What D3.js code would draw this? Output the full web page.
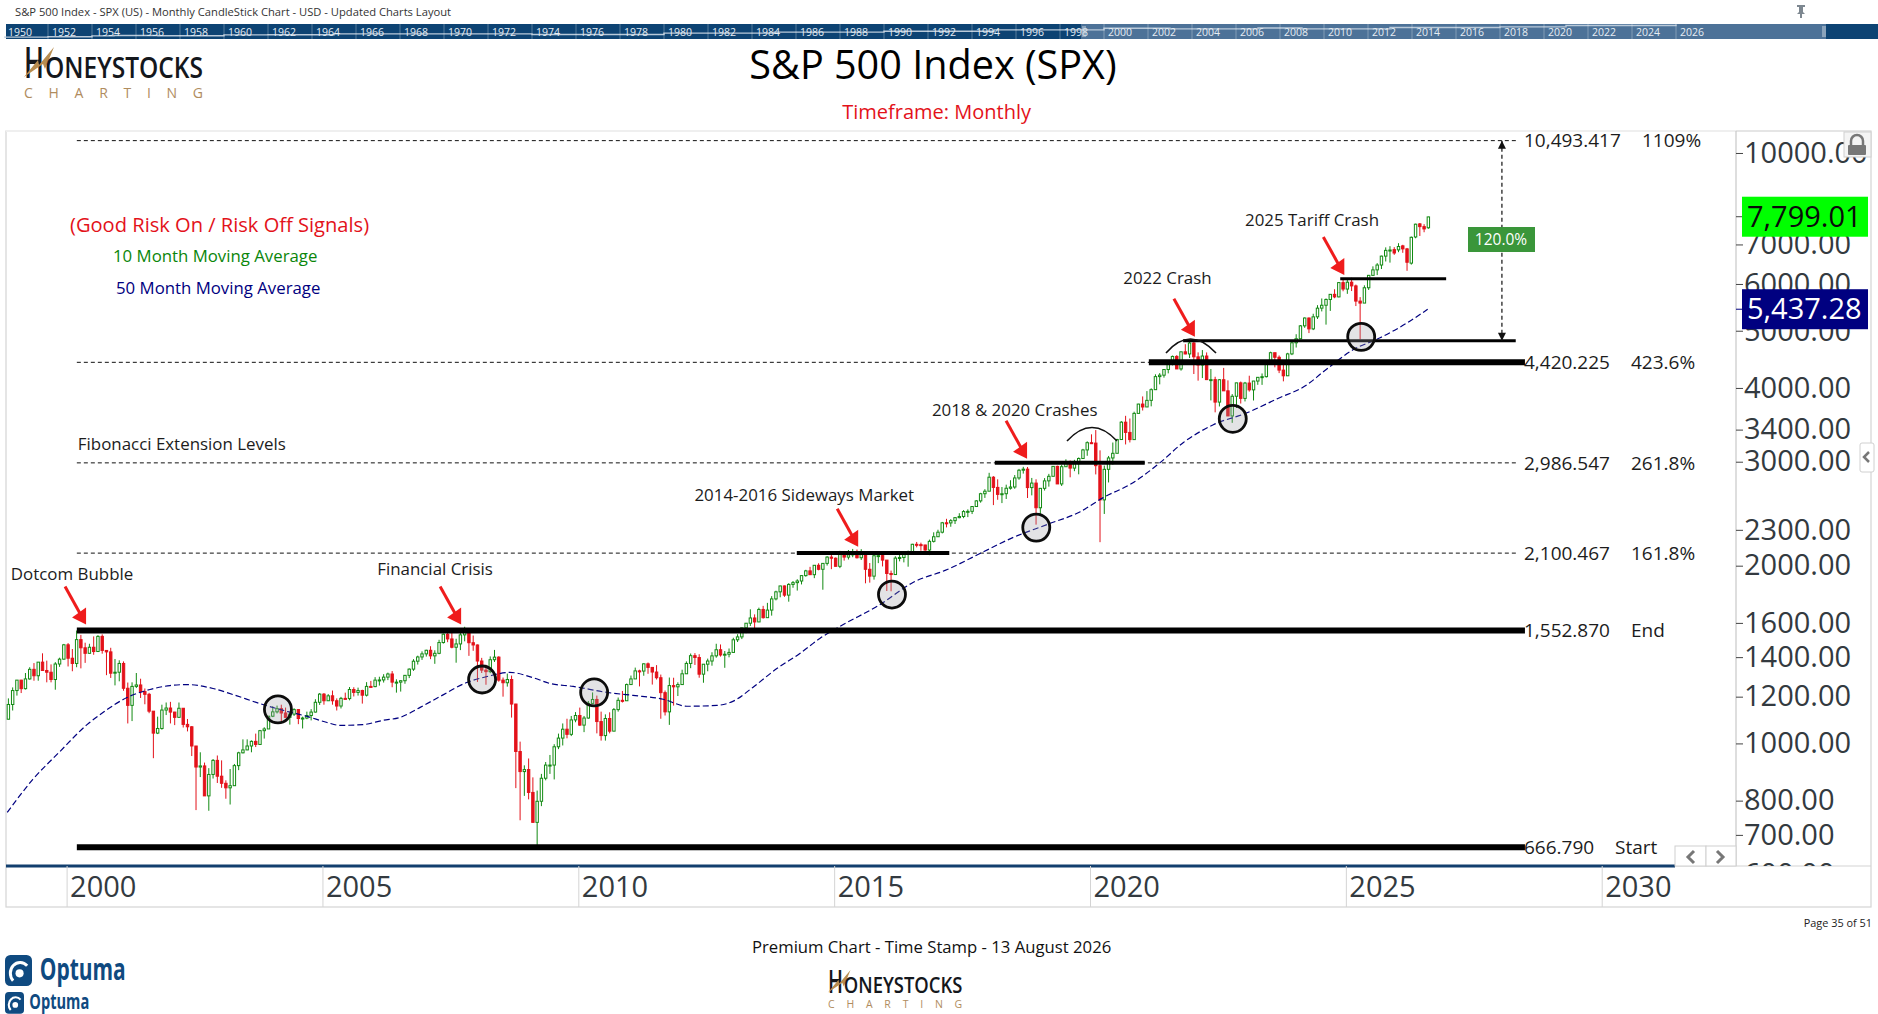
<!DOCTYPE html>
<html>
<head>
<meta charset="utf-8">
<title>S&amp;P 500 Index (SPX)</title>
<script src="https://cdn.jsdelivr.net/npm/d3@7"></script>
<style>
	html, body { margin: 0; padding: 0; background: #fff; }
	svg { display: block; font-family: "Open Sans", sans-serif; }
</style>
</head>
<body>
<div id="chart"></div>
<script>
// monthly candles, first one is Nov 1998
var firstYear = 1998, firstMonth = 10;

var opens = [
	1099, 1164,
	1229, 1280, 1238, 1286, 1335, 1302, 1373, 1329, 1320, 1283, 1363, 1389,
	1469, 1394, 1366, 1499, 1452, 1421, 1455, 1431, 1518, 1437, 1429, 1315,
	1320, 1366, 1240, 1160, 1249, 1256, 1224, 1211, 1134, 1041, 1060, 1139,
	1148, 1130, 1107, 1147, 1077, 1067, 990, 912, 916, 815, 886, 936,
	880, 856, 841, 848, 917, 964, 975, 990, 1008, 996, 1051, 1058,
	1112, 1131, 1145, 1126, 1107, 1121, 1141, 1102, 1104, 1115, 1130, 1174,
	1212, 1181, 1204, 1181, 1157, 1192, 1191, 1234, 1220, 1229, 1207, 1249,
	1248, 1280, 1281, 1295, 1311, 1270, 1270, 1277, 1304, 1336, 1378, 1401,
	1418, 1438, 1407, 1421, 1482, 1531, 1503, 1455, 1474, 1527, 1549, 1481,
	1468, 1379, 1331, 1323, 1386, 1400, 1280, 1267, 1283, 1166, 969, 896,
	903, 826, 735, 798, 873, 919, 919, 987, 1021, 1057, 1036, 1096,
	1115, 1074, 1104, 1169, 1187, 1089, 1031, 1102, 1049, 1141, 1183, 1181,
	1258, 1286, 1327, 1326, 1364, 1345, 1321, 1292, 1219, 1131, 1253, 1247,
	1258, 1312, 1366, 1408, 1398, 1310, 1362, 1379, 1407, 1441, 1412, 1416,
	1426, 1498, 1515, 1569, 1598, 1631, 1606, 1686, 1633, 1682, 1757, 1806,
	1848, 1783, 1859, 1872, 1884, 1924, 1960, 1931, 2003, 1972, 2018, 2068,
	2059, 1995, 2105, 2068, 2086, 2107, 2063, 2104, 1972, 1920, 2079, 2080,
	2044, 1940, 1932, 2060, 2065, 2097, 2099, 2174, 2171, 2168, 2126, 2199,
	2239, 2279, 2364, 2363, 2384, 2412, 2423, 2470, 2472, 2519, 2575, 2648,
	2674, 2824, 2714, 2641, 2648, 2705, 2718, 2816, 2902, 2914, 2712, 2760,
	2507, 2704, 2784, 2834, 2946, 2751, 2942, 2980, 2926, 2977, 3038, 3141,
	3231, 3226, 2954, 2585, 2912, 3044, 3100, 3271, 3500, 3363, 3270, 3622,
	3756, 3714, 3811, 3973, 4181, 4204, 4298, 4395, 4523, 4308, 4605, 4567,
	4766, 4516, 4374, 4530, 4132, 4132, 3785, 4130, 3955, 3586, 3872, 4080,
	3840, 4077, 3970, 4109, 4169, 4180, 4450, 4589, 4508, 4288, 4194, 4568,
	4770, 4846, 5096, 5254, 5036, 5278, 5460, 5522, 5648, 5762, 5705, 6032,
	5882, 6041, 5955, 5612, 5569, 5912, 6205, 6339, 6460, 6688, 6840, 6860,
	6853, 6961, 6880, 6508, 7207, 7584, 7504, 7470
];
var highs = [
	1192, 1244,
	1280, 1281, 1316, 1346, 1368, 1373, 1421, 1381, 1361, 1373, 1397, 1474,
	1479, 1445, 1553, 1527, 1481, 1475, 1518, 1525, 1530, 1437, 1452, 1390,
	1383, 1377, 1268, 1269, 1316, 1287, 1239, 1218, 1133, 1110, 1163, 1173,
	1176, 1131, 1173, 1148, 1100, 1070, 990, 966, 928, 908, 941, 954,
	936, 866, 905, 923, 968, 1016, 1016, 1012, 1039, 1054, 1065, 1112,
	1156, 1159, 1163, 1150, 1128, 1147, 1141, 1110, 1132, 1143, 1188, 1217,
	1217, 1212, 1229, 1192, 1199, 1219, 1246, 1245, 1243, 1233, 1270, 1276,
	1295, 1297, 1310, 1318, 1326, 1284, 1280, 1306, 1340, 1389, 1408, 1432,
	1441, 1461, 1438, 1498, 1535, 1541, 1556, 1504, 1539, 1576, 1545, 1523,
	1471, 1396, 1359, 1404, 1440, 1405, 1293, 1313, 1303, 1167, 1007, 918,
	943, 876, 832, 888, 930, 956, 997, 1039, 1081, 1101, 1113, 1130,
	1150, 1113, 1180, 1220, 1205, 1132, 1120, 1129, 1148, 1196, 1227, 1263,
	1303, 1344, 1333, 1367, 1371, 1345, 1357, 1308, 1229, 1293, 1292, 1269,
	1333, 1377, 1420, 1422, 1416, 1363, 1392, 1427, 1475, 1471, 1434, 1448,
	1510, 1531, 1570, 1598, 1687, 1654, 1698, 1710, 1730, 1776, 1814, 1849,
	1851, 1868, 1884, 1897, 1925, 1968, 1991, 2005, 2019, 2019, 2076, 2093,
	2065, 2119, 2118, 2126, 2135, 2130, 2133, 2113, 2021, 2094, 2117, 2104,
	2038, 1962, 2075, 2112, 2104, 2121, 2178, 2194, 2188, 2170, 2214, 2278,
	2301, 2372, 2401, 2398, 2417, 2454, 2484, 2491, 2520, 2582, 2657, 2695,
	2873, 2836, 2801, 2718, 2743, 2791, 2848, 2917, 2941, 2939, 2816, 2801,
	2708, 2814, 2861, 2950, 2954, 2964, 3028, 3014, 3022, 3050, 3154, 3248,
	3338, 3394, 3136, 2955, 3068, 3233, 3280, 3515, 3588, 3550, 3646, 3760,
	3870, 3951, 3994, 4218, 4238, 4302, 4429, 4538, 4546, 4608, 4744, 4809,
	4819, 4595, 4637, 4594, 4307, 4178, 4140, 4325, 4120, 3905, 4081, 4101,
	4095, 4195, 4111, 4170, 4232, 4458, 4607, 4585, 4540, 4393, 4587, 4794,
	4932, 5111, 5265, 5264, 5342, 5524, 5670, 5670, 5768, 5878, 6045, 6100,
	6128, 6147, 5986, 5700, 5968, 6215, 6427, 6508, 6700, 6920, 6953, 6926,
	7034, 6990, 6905, 7220, 7590, 7610, 7575, 7799
];
var lows = [
	1098, 1137,
	1205, 1217, 1234, 1282, 1277, 1277, 1328, 1269, 1269, 1233, 1348, 1387,
	1350, 1325, 1346, 1340, 1369, 1420, 1413, 1430, 1419, 1305, 1291, 1254,
	1274, 1228, 1081, 1091, 1241, 1194, 1165, 1125, 944, 1037, 1055, 1117,
	1081, 1074, 1107, 1064, 1048, 952, 771, 877, 815, 769, 872, 857,
	841, 806, 788, 848, 901, 962, 974, 966, 986, 996, 1019, 1061,
	1108, 1124, 1088, 1107, 1076, 1113, 1078, 1060, 1099, 1094, 1128, 1162,
	1163, 1181, 1163, 1137, 1146, 1191, 1183, 1201, 1205, 1168, 1201, 1246,
	1245, 1253, 1268, 1280, 1245, 1219, 1224, 1262, 1290, 1327, 1360, 1385,
	1403, 1389, 1364, 1416, 1476, 1484, 1449, 1370, 1439, 1489, 1407, 1435,
	1271, 1316, 1257, 1315, 1374, 1272, 1200, 1248, 1106, 840, 741, 815,
	804, 735, 667, 783, 866, 888, 869, 978, 992, 1020, 1029, 1086,
	1071, 1045, 1101, 1170, 1040, 1011, 1011, 1040, 1049, 1132, 1173, 1181,
	1257, 1302, 1249, 1302, 1312, 1258, 1283, 1101, 1115, 1075, 1159, 1203,
	1258, 1312, 1341, 1358, 1292, 1267, 1325, 1354, 1397, 1403, 1343, 1399,
	1426, 1485, 1502, 1537, 1581, 1560, 1605, 1627, 1633, 1646, 1747, 1768,
	1771, 1738, 1835, 1815, 1859, 1916, 1931, 1905, 1964, 1821, 2001, 1973,
	1993, 1981, 2040, 2049, 2067, 2057, 2045, 1867, 1872, 1894, 2020, 1994,
	1812, 1810, 1938, 2034, 2026, 1992, 2088, 2148, 2120, 2119, 2084, 2189,
	2245, 2268, 2322, 2328, 2353, 2406, 2407, 2417, 2446, 2520, 2557, 2605,
	2683, 2533, 2586, 2553, 2594, 2691, 2699, 2796, 2864, 2604, 2631, 2347,
	2443, 2681, 2722, 2849, 2751, 2729, 2952, 2823, 2891, 2856, 3050, 3070,
	3214, 2855, 2192, 2447, 2767, 2966, 3115, 3280, 3209, 3234, 3279, 3633,
	3663, 3725, 3723, 3973, 4056, 4164, 4234, 4368, 4306, 4279, 4560, 4495,
	4223, 4115, 4157, 4125, 3810, 3637, 3721, 3955, 3585, 3491, 3699, 3764,
	3795, 3943, 3809, 4049, 4048, 4166, 4385, 4335, 4238, 4104, 4194, 4546,
	4683, 4845, 5057, 4954, 5012, 5234, 5391, 5120, 5402, 5675, 5696, 5832,
	5773, 5837, 5505, 4835, 5579, 5861, 6201, 6212, 6360, 6550, 6521, 6722,
	6792, 6775, 6316, 6470, 7170, 7235, 7341, 7440
];
var closes = [
	1164, 1229,
	1280, 1238, 1286, 1335, 1302, 1373, 1329, 1320, 1283, 1363, 1389, 1469,
	1394, 1366, 1499, 1452, 1421, 1455, 1431, 1518, 1437, 1429, 1315, 1320,
	1366, 1240, 1160, 1249, 1256, 1224, 1211, 1134, 1041, 1060, 1139, 1148,
	1130, 1107, 1147, 1077, 1067, 990, 912, 916, 815, 886, 936, 880,
	856, 841, 848, 917, 964, 975, 990, 1008, 996, 1051, 1058, 1112,
	1131, 1145, 1126, 1107, 1121, 1141, 1102, 1104, 1115, 1130, 1174, 1212,
	1181, 1204, 1181, 1157, 1192, 1191, 1234, 1220, 1229, 1207, 1249, 1248,
	1280, 1281, 1295, 1311, 1270, 1270, 1277, 1304, 1336, 1378, 1401, 1418,
	1438, 1407, 1421, 1482, 1531, 1503, 1455, 1474, 1527, 1549, 1481, 1468,
	1379, 1331, 1323, 1386, 1400, 1280, 1267, 1283, 1166, 969, 896, 903,
	826, 735, 798, 873, 919, 919, 987, 1021, 1057, 1036, 1096, 1115,
	1074, 1104, 1169, 1187, 1089, 1031, 1102, 1049, 1141, 1183, 1181, 1258,
	1286, 1327, 1326, 1364, 1345, 1321, 1292, 1219, 1131, 1253, 1247, 1258,
	1312, 1366, 1408, 1398, 1310, 1362, 1379, 1407, 1441, 1412, 1416, 1426,
	1498, 1515, 1569, 1598, 1631, 1606, 1686, 1633, 1682, 1757, 1806, 1848,
	1783, 1859, 1872, 1884, 1924, 1960, 1931, 2003, 1972, 2018, 2068, 2059,
	1995, 2105, 2068, 2086, 2107, 2063, 2104, 1972, 1920, 2079, 2080, 2044,
	1940, 1932, 2060, 2065, 2097, 2099, 2174, 2171, 2168, 2126, 2199, 2239,
	2279, 2364, 2363, 2384, 2412, 2423, 2470, 2472, 2519, 2575, 2648, 2674,
	2824, 2714, 2641, 2648, 2705, 2718, 2816, 2902, 2914, 2712, 2760, 2507,
	2704, 2784, 2834, 2946, 2751, 2942, 2980, 2926, 2977, 3038, 3141, 3231,
	3226, 2954, 2585, 2912, 3044, 3100, 3271, 3500, 3363, 3270, 3622, 3756,
	3714, 3811, 3973, 4181, 4204, 4298, 4395, 4523, 4308, 4605, 4567, 4766,
	4516, 4374, 4530, 4132, 4132, 3785, 4130, 3955, 3586, 3872, 4080, 3840,
	4077, 3970, 4109, 4169, 4180, 4450, 4589, 4508, 4288, 4194, 4568, 4770,
	4846, 5096, 5254, 5036, 5278, 5460, 5522, 5648, 5762, 5705, 6032, 5882,
	6041, 5955, 5612, 5569, 5912, 6205, 6339, 6460, 6688, 6840, 6849, 6770,
	6944, 6880, 6530, 7197, 7575, 7504, 7437, 7793
];

// 50 month moving average
var maYears = [1998.84, 1999.34, 1999.87, 2000.40, 2000.71, 2001.18, 2001.63, 2002.02, 2002.35, 2002.86, 2003.25, 2003.78, 2004.31, 2004.70, 2005.09, 2005.34, 2005.79, 2006.18, 2006.52, 2006.91, 2007.30, 2007.82, 2008.22, 2008.66, 2009.11, 2009.45, 2009.90, 2010.56, 2011.07, 2011.66, 2012.12, 2012.71, 2013.02, 2013.41, 2013.88, 2014.33, 2014.72, 2015.11, 2015.90, 2016.54, 2017.21, 2017.85, 2018.50, 2019.16, 2019.81, 2020.26, 2020.84, 2021.37, 2021.82, 2022.41, 2023.07, 2023.66, 2024.24, 2024.56, 2025.14, 2025.67, 2026.20, 2026.60];
var maValues = [764, 869, 969, 1076, 1128, 1196, 1234, 1253, 1258, 1239, 1210, 1168, 1133, 1111, 1085, 1073, 1076, 1094, 1107, 1151, 1201, 1268, 1298, 1319, 1293, 1263, 1249, 1220, 1206, 1188, 1156, 1160, 1178, 1244, 1339, 1420, 1506, 1578, 1719, 1873, 1970, 2097, 2233, 2348, 2469, 2608, 2764, 2989, 3231, 3465, 3631, 3835, 4049, 4260, 4642, 4864, 5157, 5437];

// fibonacci levels on the right
var fibValues = [10493.417, 4420.225, 2986.547, 2100.467, 1552.87, 666.79];
var fibLabels = ["10,493.417", "4,420.225", "2,986.547", "2,100.467", "1,552.870", "666.790"];
var fibNames = ["1109%", "423.6%", "261.8%", "161.8%", "End", "Start"];
var fibDashed = [true, true, true, true, false, false];
var fibSolid = [0, 0, 0, 0, 6, 6];

// short support lines [from year, to year, price]
var supports = [
	[2021.15, 2028.5, 4420.225, 6],
	[2018.14, 2021.07, 2986.547, 4],
	[2014.27, 2017.25, 2100.467, 4],
	[2021.82, 2028.32, 4808, 3],
	[2024.89, 2026.96, 6121, 3]
];

var circleYears = [2004.13, 2008.12, 2010.31, 2016.13, 2018.95, 2022.79, 2025.30];
var circlePrices = [1142, 1283, 1220, 1787, 2320, 3546, 4882];

var arrowYears = [2000.38, 2007.71, 2015.47, 2018.77, 2022.05, 2024.97];
var arrowPrices = [1590, 1590, 2154, 3035, 4882, 6216];

var noteTexts = ["Dotcom Bubble", "Financial Crisis", "2014-2016 Sideways Market", "2018 & 2020 Crashes", "2022 Crash", "2025 Tariff Crash", "Fibonacci Extension Levels"];
var noteYears = [1998.91, 2006.07, 2012.27, 2016.91, 2020.65, 2023.03, 2000.22];
var notePrices = [1932, 1970, 2638, 3674, 6144, 7703, 3218];

var yTicks = [10000, 7000, 6000, 5000, 4000, 3400, 3000, 2300, 2000, 1600, 1400, 1200, 1000, 800, 700, 600];
var xTicks = [2000, 2005, 2010, 2015, 2020, 2025, 2030];

var lastPrice = 7799.01, lastMa = 5437.28;

// navigator strip along the top
var navYears = [1950, 1952, 1954, 1955, 1957, 1960, 1962, 1965, 1970, 1974, 1980, 1985, 1990, 1995, 2000, 2003, 2007, 2009, 2013, 2018, 2021, 2026];
var navPrices = [20, 24, 36, 45, 40, 58, 63, 92, 92, 69, 136, 211, 330, 616, 1320, 1000, 1468, 1000, 1848, 2507, 4766, 7793];

var W = 1878, H = 1014;
var plotL = 6, plotT = 131, plotR = 1736, plotB = 866, boxR = 1871, boxB = 907;

var UP = "#128a12", DOWN = "#e3121a", NAVY = "#000080", TXT = "#1c1c1c", AXTXT = "#333a40";

var svg = d3.select("#chart").append("svg").attr("width", W).attr("height", H);

var x = d3.scaleLinear().domain([2000, 2030]).range([66.6, 1601.7]);
var y = d3.scaleLog().domain([620, 10895]).range([plotB, plotT]);

var defs = svg.append("defs");

// header texts
svg.append("text").attr("x", 15).attr("y", 16).attr("font-size", 11.2).attr("fill", "#333")
	.text("S&P 500 Index - SPX (US) - Monthly CandleStick Chart - USD - Updated Charts Layout");
svg.append("text").attr("x", 933).attr("y", 79).attr("text-anchor", "middle").attr("font-size", 39.6).attr("fill", "#000")
	.text("S&P 500 Index (SPX)");
svg.append("text").attr("x", 936.6).attr("y", 119).attr("text-anchor", "middle").attr("font-size", 20).attr("fill", "#e3121a")
	.text("Timeframe: Monthly");

// navigator
var navX = d3.scaleLinear().domain([1950, 2026]).range([4, 1676]);
var navY = d3.scaleLog().domain([17, 7800]).range([37.5, 24.5]);
var navG = svg.append("g");
navG.append("rect").attr("x", 6).attr("y", 24).attr("width", W - 6).attr("height", 15).attr("fill", "#0d4373");
navG.append("rect").attr("x", 1081).attr("y", 24).attr("width", 745).attr("height", 15).attr("fill", "#4d7298");
navG.append("path").datum(navYears)
	.attr("d", d3.line().x(function (d) { return navX(d); }).y(function (d, i) { return navY(navPrices[i]); }).curve(d3.curveStepAfter))
	.attr("fill", "none").attr("stroke", "#b9c9d9").attr("stroke-width", 1.4);
var navTicks = d3.range(1950, 2027, 2);
navG.selectAll("line.navt").data(navTicks).enter().append("line").attr("class", "navt")
	.attr("x1", navX).attr("x2", navX).attr("y1", 24).attr("y2", 39)
	.attr("stroke", "#fff").attr("stroke-opacity", 0.3);
navG.selectAll("text").data(navTicks).enter().append("text")
	.attr("x", function (d) { return navX(d) + 4; }).attr("y", 35.5)
	.attr("font-size", 10.5).attr("fill", "#e6edf3").text(function (d) { return d; });
[1083, 1085, 1823, 1825].forEach(function (hx) {
	navG.append("line").attr("x1", hx).attr("x2", hx).attr("y1", 26).attr("y2", 37).attr("stroke", "#c9d4de");
});

// pin
svg.append("path").attr("d", "M1797,5 h8 v2 h-2 v5 l2,2 h-3 v4 h-2 v-4 h-3 l2,-2 v-5 h-2 z").attr("fill", "#7d8790");

// logos
function drawLogo(g) {
	g.append("text").attr("x", 0).attr("y", 31).attr("font-size", 43).attr("font-weight", 600)
		.attr("textLength", 20).attr("lengthAdjust", "spacingAndGlyphs").attr("fill", "#14171c").text("H");
	g.append("path").attr("d", "M0,30 L14,13 L15,18 L30,0 L21,22 L19,17 Z").attr("fill", "#b88d50");
	g.append("text").attr("x", 21).attr("y", 31).attr("font-size", 28).attr("font-weight", 600)
		.attr("textLength", 158).attr("lengthAdjust", "spacingAndGlyphs").attr("fill", "#14171c").text("ONEYSTOCKS");
	g.append("text").attr("x", 0).attr("y", 51).attr("font-size", 14)
		.attr("textLength", 179).attr("lengthAdjust", "spacing").attr("fill", "#b08c5e").text("CHARTING");
}
drawLogo(svg.append("g").attr("transform", "translate(24,47)"));
drawLogo(svg.append("g").attr("transform", "translate(828,970) scale(0.75)"));

function drawOptuma(g, size, fs, w) {
	g.append("rect").attr("width", size).attr("height", size * 1.15).attr("rx", size * 0.2).attr("fill", "#0f4a80");
	g.append("path").attr("d", "M" + size * 0.3 + "," + size * 0.95 + " A" + size * 0.33 + "," + size * 0.36 + " 0 1 1 " + size * 0.82 + "," + size * 0.4)
		.attr("fill", "none").attr("stroke", "#fff").attr("stroke-width", size * 0.11);
	g.append("circle").attr("cx", size * 0.54).attr("cy", size * 0.68).attr("r", size * 0.15).attr("fill", "#fff");
	g.append("text").attr("x", size + fs * 0.25).attr("y", size * 0.92).attr("font-size", fs).attr("font-weight", 700)
		.attr("textLength", w).attr("lengthAdjust", "spacingAndGlyphs").attr("fill", "#0f4a80").text("Optuma");
}
drawOptuma(svg.append("g").attr("transform", "translate(5,955)"), 27, 31, 86);
drawOptuma(svg.append("g").attr("transform", "translate(5,992)"), 19, 21, 60);

// frame
svg.append("rect").attr("x", plotL).attr("y", plotT).attr("width", boxR - plotL).attr("height", boxB - plotT)
	.attr("fill", "#fff").attr("stroke", "#d4d4d4").attr("stroke-width", 1.2);
svg.append("line").attr("x1", plotL).attr("x2", plotR).attr("y1", plotT).attr("y2", plotT).attr("stroke", "#efefef").attr("stroke-width", 2);
svg.append("line").attr("x1", plotR).attr("x2", plotR).attr("y1", plotT).attr("y2", plotB).attr("stroke", "#c8c8c8").attr("stroke-width", 1.2);
svg.append("line").attr("x1", plotL).attr("x2", boxR).attr("y1", plotB).attr("y2", plotB).attr("stroke", "#d4d4d4").attr("stroke-width", 1.2);
svg.append("line").attr("x1", plotL).attr("x2", 1675).attr("y1", plotB).attr("y2", plotB).attr("stroke", "#123f6e").attr("stroke-width", 3);

// axes
var yAxis = d3.axisRight(y).tickValues(yTicks).tickSize(7).tickSizeOuter(0).tickFormat(d3.format(".2f"));
var yG = svg.append("g").attr("transform", "translate(" + plotR + ",0)").attr("clip-path", "url(#axisClipLocal)").call(yAxis);
defs.append("clipPath").attr("id", "axisClipLocal").append("rect")
	.attr("x", -1).attr("y", plotT).attr("width", boxR - plotR + 1).attr("height", plotB - plotT);
yG.select(".domain").remove();
yG.selectAll(".tick line").attr("stroke", "#444");
yG.selectAll(".tick text").attr("x", 8).attr("font-size", 29).attr("font-family", "Open Sans").attr("fill", AXTXT);

var xAxis = d3.axisBottom(x).tickValues(xTicks).tickSize(boxB - plotB).tickSizeOuter(0).tickFormat(d3.format("d"));
var xG = svg.append("g").attr("transform", "translate(0," + plotB + ")").call(xAxis);
xG.select(".domain").remove();
xG.selectAll(".tick line").attr("stroke", "#d4d4d4");
xG.selectAll(".tick text").attr("x", 3).attr("y", 21).attr("dy", "0.35em").attr("text-anchor", "start")
	.attr("font-size", 29).attr("font-family", "Open Sans").attr("fill", AXTXT);

// fibonacci levels
var fibG = svg.append("g");
fibValues.forEach(function (v, i) {
	if (fibDashed[i]) {
		fibG.append("line").attr("x1", x(2000.2)).attr("x2", x(2028.36)).attr("y1", y(v)).attr("y2", y(v))
			.attr("stroke", "#111").attr("stroke-width", 1).attr("stroke-dasharray", "4,3");
	}
	fibG.append("text").attr("x", 1524).attr("y", y(v)).attr("dy", "0.35em").attr("font-size", 19).attr("fill", TXT).text(fibLabels[i]);
	fibG.append("text").attr("x", i == 0 ? 1642 : (i == 5 ? 1615 : 1631)).attr("y", y(v)).attr("dy", "0.35em")
		.attr("font-size", 19).attr("fill", TXT).text(fibNames[i]);
});

// candles
var candles = closes.map(function (c, i) {
	var m = firstMonth + i;
	return { t: firstYear + (m + 0.35) / 12, o: opens[i], h: highs[i], l: lows[i], c: c };
});
var candleG = svg.append("g");
candleG.selectAll("line").data(candles).enter().append("line")
	.attr("x1", function (d) { return x(d.t); }).attr("x2", function (d) { return x(d.t); })
	.attr("y1", function (d) { return y(d.h); }).attr("y2", function (d) { return y(d.l); })
	.attr("stroke", function (d) { return d.c >= d.o ? UP : DOWN; }).attr("stroke-width", 1);
candleG.selectAll("rect").data(candles).enter().append("rect")
	.attr("x", function (d) { return x(d.t) - 1.2; }).attr("width", 2.4)
	.attr("y", function (d) { return y(Math.max(d.o, d.c)); })
	.attr("height", function (d) { return Math.max(1, Math.abs(y(d.o) - y(d.c))); })
	.attr("fill", function (d) { return d.c >= d.o ? "#fff" : DOWN; })
	.attr("stroke", function (d) { return d.c >= d.o ? UP : DOWN; }).attr("stroke-width", 1);

// 50 month average
svg.append("path").datum(maYears)
	.attr("d", d3.line().x(function (d) { return x(d); }).y(function (d, i) { return y(maValues[i]); }).curve(d3.curveMonotoneX))
	.attr("fill", "none").attr("stroke", NAVY).attr("stroke-width", 1.2).attr("stroke-dasharray", "6,3");

// heavy horizontal lines
var thickG = svg.append("g");
fibValues.forEach(function (v, i) {
	if (fibSolid[i]) {
		thickG.append("line").attr("x1", x(2000.2)).attr("x2", x(2028.5)).attr("y1", y(v)).attr("y2", y(v))
			.attr("stroke", "#000").attr("stroke-width", fibSolid[i]);
	}
});
thickG.selectAll("line.sup").data(supports).enter().append("line").attr("class", "sup")
	.attr("x1", function (d) { return x(d[0]); }).attr("x2", function (d) { return x(d[1]); })
	.attr("y1", function (d) { return y(d[2]); }).attr("y2", function (d) { return y(d[2]); })
	.attr("stroke", "#000").attr("stroke-width", function (d) { return d[3]; });

// circles on the average
svg.selectAll("circle.touch").data(circleYears).enter().append("circle").attr("class", "touch")
	.attr("cx", function (d) { return x(d); })
	.attr("cy", function (d, i) { return y(circlePrices[i]); })
	.attr("r", 13.5)
	.attr("fill", "#9a9aa2").attr("fill-opacity", 0.28)
	.attr("stroke", "#0c0c0c").attr("stroke-width", 2.8);

// arcs over the two tops
svg.append("path").attr("d", "M1067,441 Q1092,414 1117,441").attr("fill", "none").attr("stroke", "#111").attr("stroke-width", 1.6);
svg.append("path").attr("d", "M1166,353 Q1190,325 1216,353").attr("fill", "none").attr("stroke", "#111").attr("stroke-width", 1.6);

// red arrows
arrowYears.forEach(function (a, i) {
	var tx = x(a), ty = y(arrowPrices[i]);
	svg.append("line").attr("x1", tx - 21).attr("y1", ty - 38).attr("x2", tx - 6).attr("y2", ty - 11)
		.attr("stroke", "#ef1c1c").attr("stroke-width", 3);
	svg.append("path")
		.attr("d", "M" + tx + "," + ty + " L" + (tx - 14) + "," + (ty - 7) + " L" + tx + "," + (ty - 17) + " Z")
		.attr("fill", "#ef1c1c");
});

// notes
svg.selectAll("text.note").data(noteTexts).enter().append("text").attr("class", "note")
	.attr("x", function (d, i) { return x(noteYears[i]); })
	.attr("y", function (d, i) { return y(notePrices[i]); })
	.attr("dy", "0.35em").attr("font-size", 16.9).attr("fill", TXT).text(function (d) { return d; });

svg.append("text").attr("x", 70).attr("y", 232).attr("font-size", 20.1).attr("fill", "#e3121a").text("(Good Risk On / Risk Off Signals)");
svg.append("text").attr("x", 113).attr("y", 262).attr("font-size", 16.8).attr("fill", "#0a860a").text("10 Month Moving Average");
svg.append("text").attr("x", 116).attr("y", 293.5).attr("font-size", 16.8).attr("fill", NAVY).text("50 Month Moving Average");

// measured move up to the top level
var moveX = x(2028.05);
svg.append("line").attr("x1", moveX).attr("x2", moveX).attr("y1", y(10493.417)).attr("y2", y(4808))
	.attr("stroke", "#111").attr("stroke-width", 1.2).attr("stroke-dasharray", "4,3");
svg.append("path").attr("d", d3.line()([[moveX, y(10493.417)], [moveX - 4, y(10493.417) + 8], [moveX + 4, y(10493.417) + 8]]) + "Z").attr("fill", "#111");
svg.append("path").attr("d", d3.line()([[moveX, y(4808)], [moveX - 4, y(4808) - 8], [moveX + 4, y(4808) - 8]]) + "Z").attr("fill", "#111");
svg.append("rect").attr("x", 1468).attr("y", 227).attr("width", 67).attr("height", 25).attr("fill", "#3a963a");
svg.append("text").attr("x", 1501).attr("y", 239.5).attr("dy", "0.35em").attr("text-anchor", "middle").attr("font-size", 15.5).attr("fill", "#fff").text("120.0%");

// last value boxes
svg.append("line").attr("x1", plotR).attr("x2", plotR + 7).attr("y1", y(lastPrice)).attr("y2", y(lastPrice)).attr("stroke", "#444");
svg.append("rect").attr("x", 1742).attr("y", y(lastPrice) - 20).attr("width", 126).attr("height", 40).attr("fill", "#00ff00");
svg.append("text").attr("x", 1747).attr("y", y(lastPrice)).attr("dy", "0.35em").attr("font-size", 29).attr("fill", "#0a0a0a").text(d3.format(",.2f")(lastPrice));
svg.append("line").attr("x1", plotR).attr("x2", plotR + 7).attr("y1", y(lastMa)).attr("y2", y(lastMa)).attr("stroke", NAVY);
svg.append("rect").attr("x", 1742).attr("y", y(lastMa) - 20).attr("width", 126).attr("height", 40).attr("fill", NAVY);
svg.append("text").attr("x", 1747).attr("y", y(lastMa)).attr("dy", "0.35em").attr("font-size", 29).attr("fill", "#fff").text(d3.format(",.2f")(lastMa));

// lock button
svg.append("rect").attr("x", 1844).attr("y", 132).attr("width", 27).attr("height", 25).attr("fill", "#f4f4f4").attr("stroke", "#d0d0d0");
svg.append("rect").attr("x", 1848).attr("y", 145).attr("width", 18).attr("height", 10).attr("rx", 1).attr("fill", "#777");
svg.append("path").attr("d", "M1851,145 v-4 a6,6 0 0 1 12,0 v4").attr("fill", "none").attr("stroke", "#777").attr("stroke-width", 2.5);

// scroll buttons
svg.append("rect").attr("x", 1675).attr("y", 846).attr("width", 31).attr("height", 20).attr("fill", "#fff").attr("stroke", "#d0d0d0");
svg.append("rect").attr("x", 1706).attr("y", 846).attr("width", 30).attr("height", 20).attr("fill", "#fff").attr("stroke", "#d0d0d0");
svg.append("path").attr("d", "M1694,851 L1688,857 L1694,863").attr("fill", "none").attr("stroke", "#777").attr("stroke-width", 3);
svg.append("path").attr("d", "M1717,851 L1723,857 L1717,863").attr("fill", "none").attr("stroke", "#777").attr("stroke-width", 3);
svg.append("rect").attr("x", 1860).attr("y", 443).attr("width", 14).attr("height", 29).attr("rx", 2).attr("fill", "#fff").attr("stroke", "#d0d0d0");
svg.append("path").attr("d", "M1869,452 L1864,457 L1869,462").attr("fill", "none").attr("stroke", "#777").attr("stroke-width", 2.5);

// footer
svg.append("text").attr("x", 1872).attr("y", 926.5).attr("text-anchor", "end").attr("font-size", 10.9).attr("fill", "#222").text("Page 35 of 51");
svg.append("text").attr("x", 931.6).attr("y", 947).attr("dy", "0.35em").attr("text-anchor", "middle").attr("font-size", 16.7).attr("fill", "#111")
	.text("Premium Chart - Time Stamp - 13 August 2026");
</script>
</body>
</html>
